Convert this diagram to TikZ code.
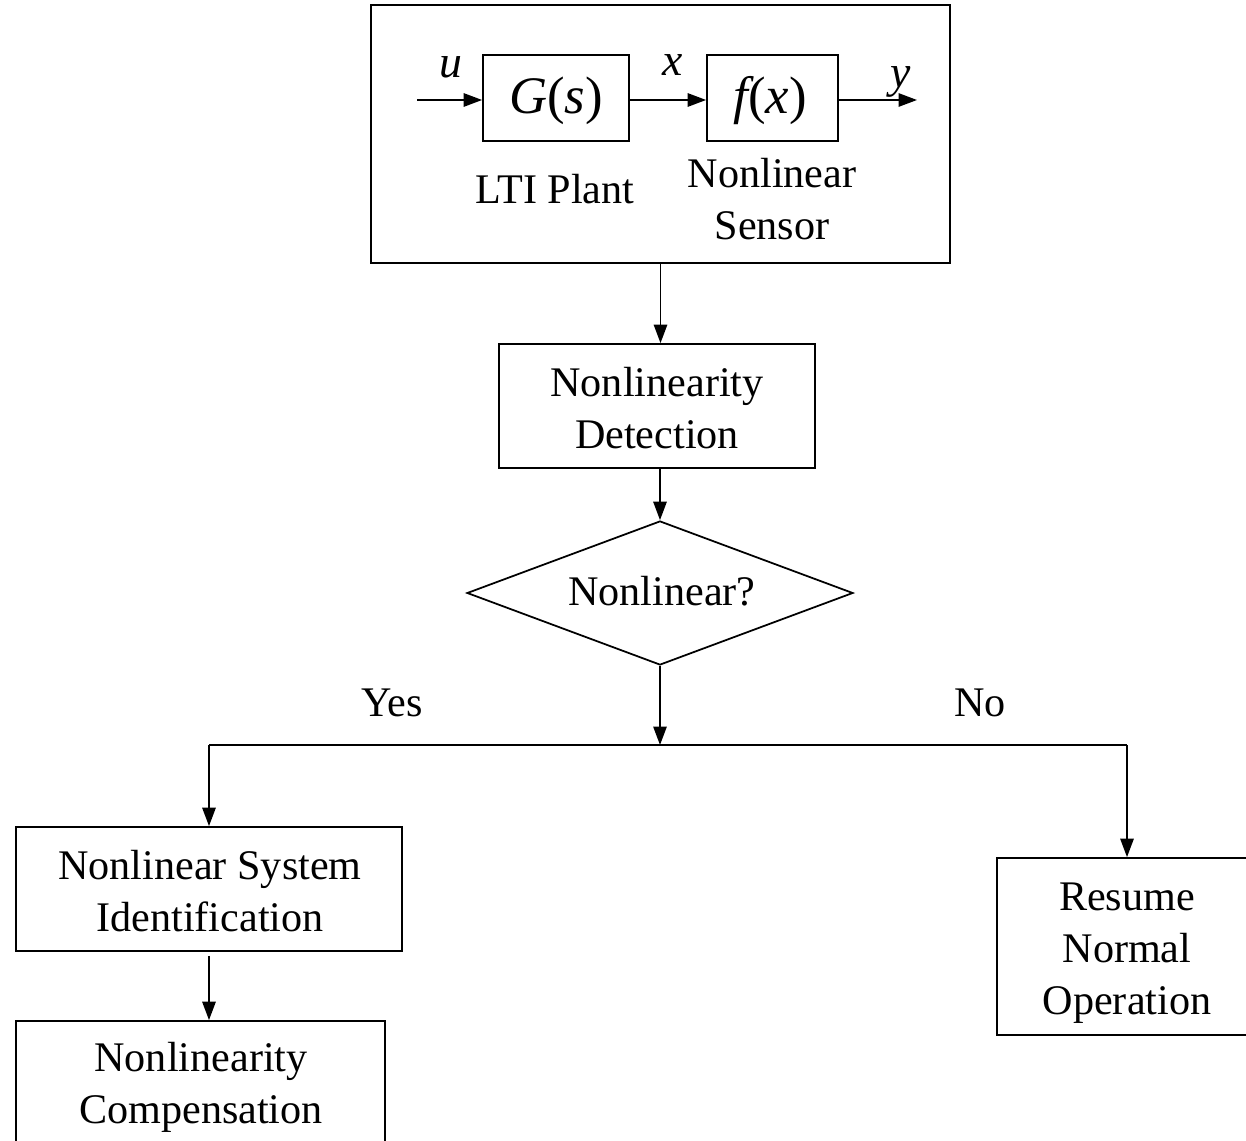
\documentclass[tikz,border=0pt]{standalone}
\usepackage{fontspec}
\setmainfont{Liberation Serif}
\usetikzlibrary{arrows.meta,shapes.geometric}
\newlength\px
\setlength\px{0.02cm}
\begin{document}
\begin{tikzpicture}[x=0.02cm, y=-0.02cm,
  font=\fontsize{24}{29.5}\selectfont,
  line width=1pt,
  box/.style={draw, rectangle, align=center, inner sep=0pt},
  lbl/.style={align=center, inner sep=0pt},
  mathtxt/.style={font=\fontsize{30}{34}\selectfont\itshape, inner sep=0pt},
  sig/.style={font=\fontsize{26}{30}\selectfont\itshape, inner sep=0pt},
  flow/.style={-{Triangle[length=10.5pt,width=7.6pt]}},
]
\useasboundingbox (0,0) rectangle (1246,1141);
\clip (0,0) rectangle (1246,1141);

% plant and sensor block
\node[box, minimum width=579\px, minimum height=258\px] (sys) at (660.5,134) {};
\node[box, minimum width=146\px, minimum height=86\px] (G) at (556,98) {};
\node[mathtxt] at (556,101) {G\upshape(\itshape s\upshape)};
\node[box, minimum width=131\px, minimum height=86\px] (F) at (772.5,98) {};
\node[mathtxt] at (770,101) {f\upshape(\itshape x\upshape)};
\coordinate (uin) at (417,100);
\coordinate (yout) at (917,100);
\node[sig] (ulab) at (451,67) {u};
\node[sig] (xlab) at (673,65) {x};
\node[sig] (ylab) at (901,82) {y};
\node[lbl] (lti) at (555,189) {LTI Plant};
\node[lbl] (sen) at (772,199) {Nonlinear\\Sensor};
\draw[flow] (uin) -- (uin -| G.west);
\draw[flow] (uin -| G.east) -- (uin -| F.west);
\draw[flow] (uin -| F.east) -- (yout);

% detection and decision
\node[box, minimum width=316\px, minimum height=124\px] (det) at (657,406) {};
\node[lbl] at (657,408) {Nonlinearity\\Detection};
\node[draw, diamond, aspect=2.68, inner sep=0pt, minimum width=386\px, minimum height=144\px] (dec) at (660,593) {};
\node[lbl] at (662,591) {Nonlinear?};
\coordinate (J) at (660,745);
\coordinate (JL) at (209,745);
\coordinate (JR) at (1127,745);
\node[lbl] (yes) at (392,703) {Yes};
\node[lbl] (no) at (980,703) {No};

% outcomes
\node[box, minimum width=386\px, minimum height=124\px] (sid) at (209,889) {};
\node[lbl] at (210,891) {Nonlinear System\\Identification};
\node[box, minimum width=369\px, minimum height=124\px] (comp) at (200.5,1083) {};
\node[lbl] at (201,1087) {Nonlinearity\\Compensation};
\node[box, minimum width=260\px, minimum height=177\px] (resume) at (1127,946.5) {};
\node[lbl] at (1127,953) {Resume\\Normal\\Operation};

\draw[flow] (sys.south) -- (sys.south |- det.north);
\draw[flow] (det.south -| dec.north) -- (dec.north);
\draw[flow] (dec.south) -- (J);
\draw (JL) -- (JR);
\draw[flow] (JL) -- (sid.north);
\draw[flow] (JR) -- (resume.north);
\draw[flow, shorten <=2.3pt] (sid.south) -- (sid.south |- comp.north);
\end{tikzpicture}
\end{document}
